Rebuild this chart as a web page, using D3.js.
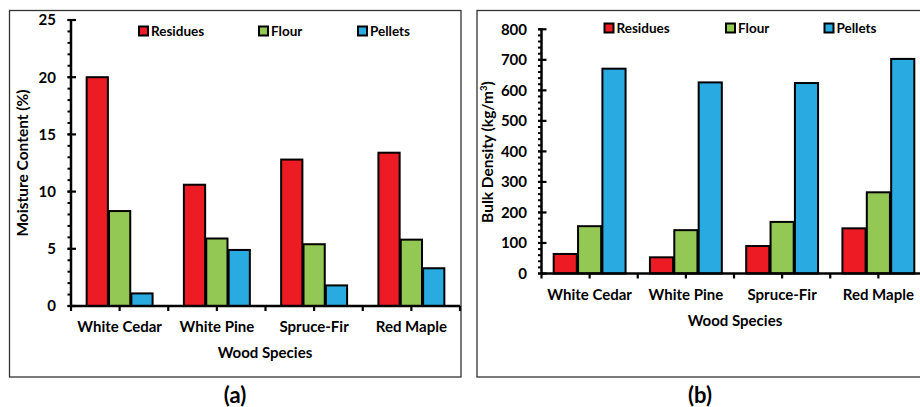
<!DOCTYPE html>
<html>
<head>
<meta charset="utf-8">
<style>
  body { margin: 0; background: #fff; }
  svg { display: block; font-family: Lato, "Open Sans", sans-serif; font-weight: bold; }
</style>
</head>
<body>
<svg id="chart" width="920" height="407"></svg>
<script src="https://d3js.org/d3.v7.min.js"></script>
<script>
const species = ["White Cedar", "White Pine", "Spruce-Fir", "Red Maple"];
const series = ["Residues", "Flour", "Pellets"];
const colours = ["#ED1C24", "#92C853", "#29ABE2"];

// moisture content (%) per species: residues, flour, pellets
const moistureResidues = [20.0, 10.6, 12.8, 13.4];
const moistureFlour = [8.3, 5.9, 5.4, 5.8];
const moisturePellets = [1.1, 4.9, 1.8, 3.3];

// bulk density (kg/m3)
const densityResidues = [64, 53, 90, 148];
const densityFlour = [155, 142, 169, 266];
const densityPellets = [671, 626, 624, 703];

const moistureTicks = [0, 5, 10, 15, 20, 25];
const densityTicks = [0, 100, 200, 300, 400, 500, 600, 700, 800];

const svg = d3.select("#chart");

const panel = (opt) => {
  const g = svg.append("g");

  g.append("rect")
    .attr("x", opt.box[0]).attr("y", opt.box[1])
    .attr("width", opt.box[2]).attr("height", opt.box[3])
    .attr("fill", "none").attr("stroke", "#333").attr("stroke-width", 1.3);

  const y = d3.scaleLinear().domain(opt.domain).range(opt.yRange);
  const x0 = d3.scaleBand().domain(species).range(opt.xRange).padding(0);
  const x1 = d3.scaleBand().domain(series).range([0, x0.bandwidth()])
    .paddingInner(opt.inner).paddingOuter(opt.outer);

  const rows = species.map((s, i) => ({
    name: s,
    values: opt.values.map((v, j) => ({ key: series[j], value: v[i], colour: colours[j] }))
  }));

  // bars
  const groups = g.selectAll("g.grp").data(rows).enter().append("g")
    .attr("class", "grp")
    .attr("transform", (d) => `translate(${x0(d.name)},0)`);
  groups.selectAll("rect").data((d) => d.values).enter().append("rect")
    .attr("x", (d) => x1(d.key))
    .attr("y", (d) => y(d.value))
    .attr("width", x1.bandwidth())
    .attr("height", (d) => y(0) - y(d.value))
    .attr("fill", (d) => d.colour)
    .attr("stroke", "#000")
    .attr("stroke-width", 2);

  // y axis: minor ticks
  const ax = opt.xRange[0];
  const minor = d3.range(opt.domain[0], opt.domain[1] + 0.001, opt.minorStep);
  g.selectAll("line.minor").data(minor).enter().append("line")
    .attr("x1", ax - 3.5).attr("x2", ax)
    .attr("y1", (d) => y(d)).attr("y2", (d) => y(d))
    .attr("stroke", "#000").attr("stroke-width", 2);
  g.selectAll("line.major").data(opt.ticks).enter().append("line")
    .attr("x1", ax - 3.5).attr("x2", ax + 5)
    .attr("y1", (d) => y(d)).attr("y2", (d) => y(d))
    .attr("stroke", "#000").attr("stroke-width", 2.2);
  g.append("line")
    .attr("x1", ax).attr("x2", ax)
    .attr("y1", y(opt.domain[1]) - 1).attr("y2", y(0) + 1)
    .attr("stroke", "#000").attr("stroke-width", 2.5);
  g.selectAll("text.ytick").data(opt.ticks).enter().append("text")
    .attr("x", opt.labelX).attr("y", (d) => y(d))
    .attr("dy", "0.36em")
    .attr("text-anchor", "end")
    .attr("font-size", 15)
    .text((d) => d);

  // x axis
  g.append("line")
    .attr("x1", opt.xRange[0]).attr("x2", opt.xRange[1])
    .attr("y1", y(0)).attr("y2", y(0))
    .attr("stroke", "#000").attr("stroke-width", 2.5);
  const bounds = species.map((s) => x0(s)).concat([opt.xRange[1]]);
  const centres = species.map((s) => x0(s) + x0.bandwidth() / 2);
  g.selectAll("line.xt").data(bounds.concat(centres)).enter().append("line")
    .attr("x1", (d) => d).attr("x2", (d) => d)
    .attr("y1", y(0)).attr("y2", y(0) + 5)
    .attr("stroke", "#000").attr("stroke-width", 2.2);
  g.selectAll("text.xl").data(species).enter().append("text")
    .attr("x", (d) => x0(d) + x0.bandwidth() / 2)
    .attr("y", y(0) + 26)
    .attr("text-anchor", "middle")
    .attr("font-size", 15)
    .text((d) => d);
  g.append("text")
    .attr("x", opt.xTitle[0]).attr("y", opt.xTitle[1])
    .attr("text-anchor", "middle")
    .attr("font-size", 15)
    .text("Wood Species");

  // y title
  const yt = g.append("text")
    .attr("transform", `translate(${opt.yTitle[0]},${opt.yTitle[1]}) rotate(-90)`)
    .attr("text-anchor", "middle")
    .attr("font-size", 15.5);
  yt.append("tspan").text(opt.yLabel);
  if (opt.sup) {
    yt.append("tspan").attr("font-size", 9.5).attr("dy", -6).text(opt.sup);
    yt.append("tspan").attr("dy", 6).text(")");
  }

  // legend
  const lg = g.selectAll("g.lg").data(series).enter().append("g")
    .attr("transform", (d, i) => `translate(${opt.legendX[i]},${opt.legendY})`);
  lg.append("rect")
    .attr("x", 0).attr("y", -4.5).attr("width", 9).attr("height", 9)
    .attr("fill", (d, i) => colours[i])
    .attr("stroke", "#000").attr("stroke-width", 2);
  lg.append("text")
    .attr("x", 12).attr("dy", "0.36em")
    .attr("font-size", 13.5)
    .text((d) => d);

  g.append("text")
    .attr("x", opt.caption[0]).attr("y", opt.caption[1])
    .attr("text-anchor", "middle")
    .attr("font-size", 22)
    .text(opt.captionText);
};

panel({
  box: [9.5, 10.5, 451.5, 366.5],
  domain: [0, 25], yRange: [306, 20], xRange: [71, 460],
  inner: 0.05, outer: 0.7,
  values: [moistureResidues, moistureFlour, moisturePellets],
  ticks: moistureTicks, minorStep: 1, labelX: 56,
  yLabel: "Moisture Content (%)", yTitle: [28, 163],
  xTitle: [265, 358],
  legendX: [139, 259, 358], legendY: 31,
  caption: [235, 403], captionText: "(a)"
});

panel({
  box: [477, 10.5, 460, 366.5],
  domain: [0, 800], yRange: [273.5, 29.3], xRange: [541.5, 926.5],
  inner: 0.05, outer: 0.5,
  values: [densityResidues, densityFlour, densityPellets],
  ticks: densityTicks, minorStep: 20, labelX: 527,
  yLabel: "Bulk Density (kg/m", sup: "3", yTitle: [493, 152],
  xTitle: [735, 326],
  legendX: [604.5, 726, 824.5], legendY: 28,
  caption: [700, 403], captionText: "(b)"
});
</script>
</body>
</html>
